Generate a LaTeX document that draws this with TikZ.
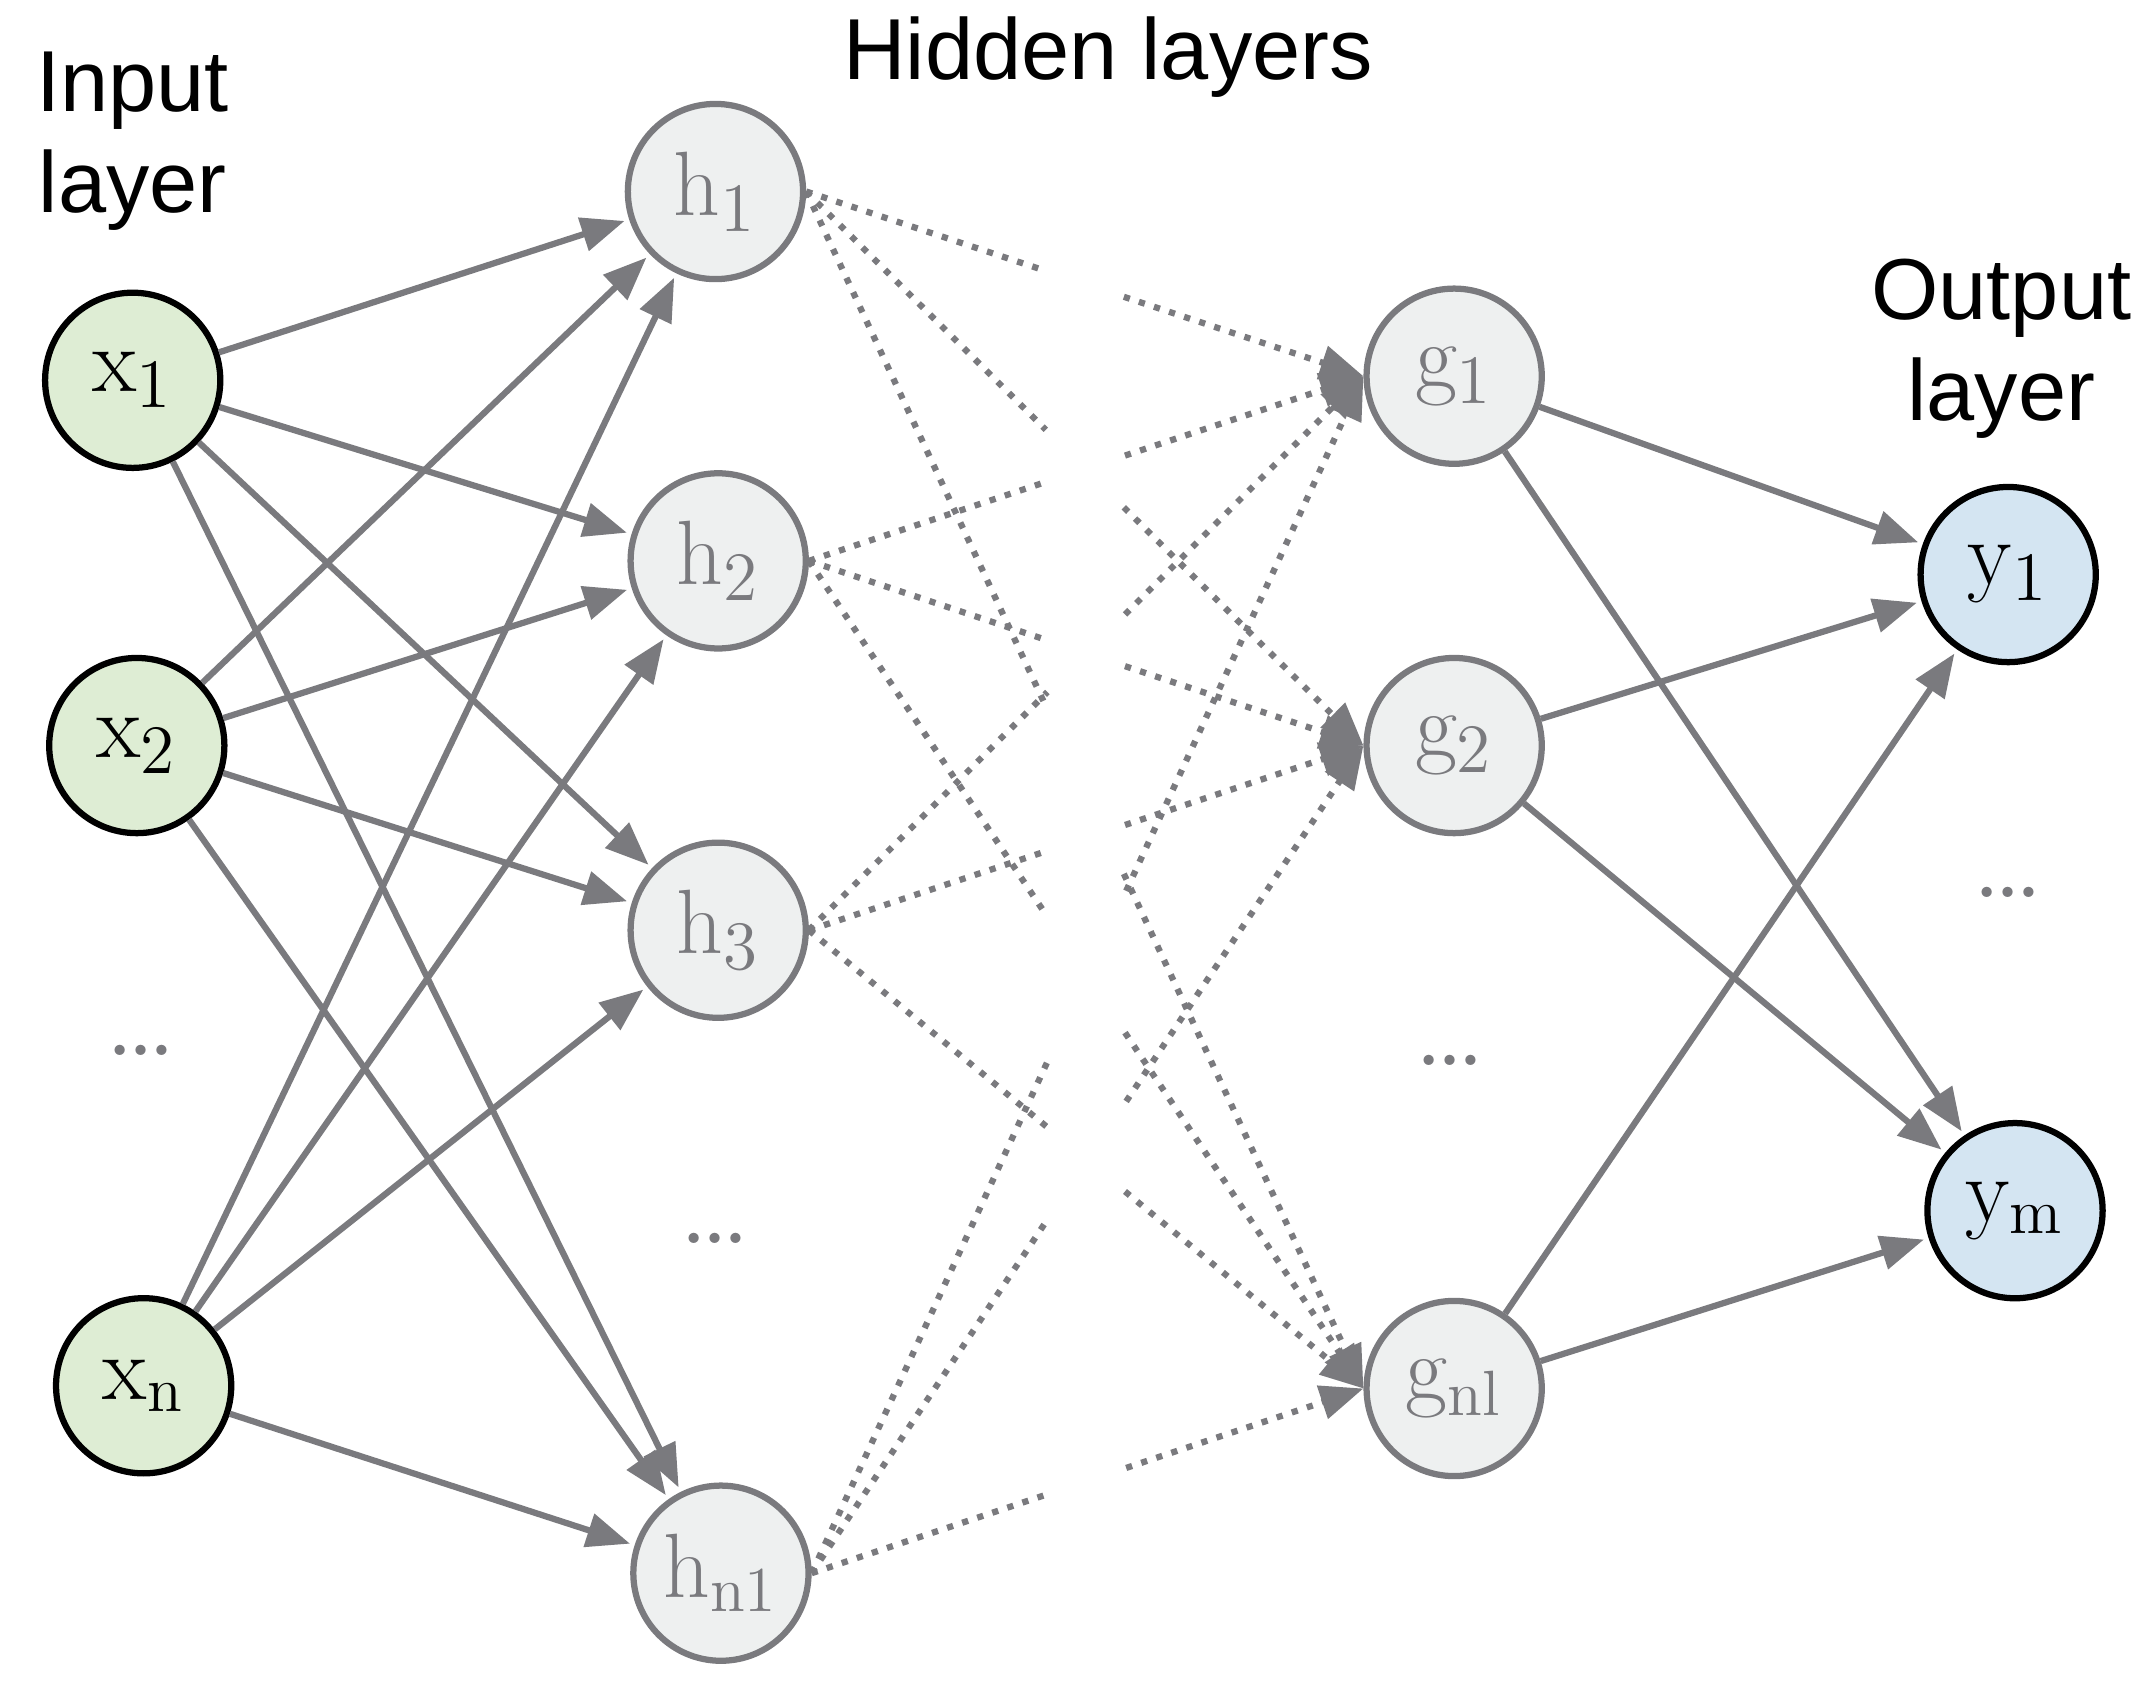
\documentclass[tikz,border=0pt]{standalone}
\usepackage{fontspec}
\newfontfamily\hsans{Liberation Sans}
\usetikzlibrary{arrows.meta,calc}
\definecolor{ln}{RGB}{122,122,126}
\definecolor{gin}{RGB}{222,237,212}
\definecolor{gh}{RGB}{238,240,240}
\definecolor{bout}{RGB}{212,229,242}
\begin{document}
\begin{tikzpicture}[x=0.01cm,y=-0.01cm,
 nin/.style={circle,draw=black,line width=1.3pt,fill=gin,minimum size=1.28cm,inner sep=0pt,font=\fontsize{19}{22}\selectfont},
 nh/.style={circle,draw=ln,line width=1.3pt,fill=gh,minimum size=1.28cm,inner sep=0pt,text=ln,font=\fontsize{19}{22}\selectfont},
 nout/.style={circle,draw=black,line width=1.3pt,fill=bout,minimum size=1.28cm,inner sep=0pt,font=\fontsize{19}{22}\selectfont},
 con/.style={draw=ln,line width=1.3pt,-{Triangle[length=9pt,width=7pt]},shorten >=1pt},
 dcon/.style={draw=ln,line width=1.3pt,dotted},
 dots/.style={text=ln,font=\fontsize{26}{28}\selectfont},
 head/.style={font=\hsans\fontsize{18}{21}\selectfont,align=center}]
\useasboundingbox (0,0) rectangle (1568,1230);
\node[nin] (x1) at (97,278) {x$_1$};
\node[nin] (x2) at (100,545) {x$_2$};
\node[nin] (xn) at (105,1013) {x$_{\mathrm n}$};
\node[dots] (xd) at (103,768) {\dots};
\node[nh] (h1) at (523,140) {h$_1$};
\node[nh] (h2) at (525,410) {h$_2$};
\node[nh] (h3) at (525,680) {h$_3$};
\node[nh] (hn) at (527,1150) {h$_{\mathrm{n1}}$};
\node[dots] (hd) at (523,905) {\dots};
\node[nh] (g1) at (1063,275) {g$_1$};
\node[nh] (g2) at (1063,545) {g$_2$};
\node[nh] (gn) at (1063,1015) {g$_{\mathrm{nl}}$};
\node[dots] (gd) at (1060,775) {\dots};
\node[nout] (y1) at (1468,420) {y$_1$};
\node[nout] (ym) at (1473,885) {y$_{\mathrm m}$};
\node[dots] (yd) at (1468,652) {\dots};
\node[head] (lin) at (97,103) {Input\\layer};
\node[head] (lh) at (810,42) {Hidden layers};
\node[head] (lo) at (1463,255) {Output\\layer};
\foreach \a in {x1,x2,xn}\foreach \b in {h1,h2,h3,hn}\draw[con] (\a) -- (\b);
\foreach \a in {g1,g2,gn}\foreach \b in {y1,ym}\draw[con] (\a) -- (\b);
\foreach \a in {h1,h2,h3,hn}\foreach \b in {g1,g2,gn}{
 \draw[dcon] (\a.east) -- ($(\a.east)!0.43!(\b.west)$);
 \draw[dcon,-{Triangle[length=9pt,width=7pt]}] ($(\a.east)!0.57!(\b.west)$) -- (\b.west);}
\end{tikzpicture}
\end{document}
